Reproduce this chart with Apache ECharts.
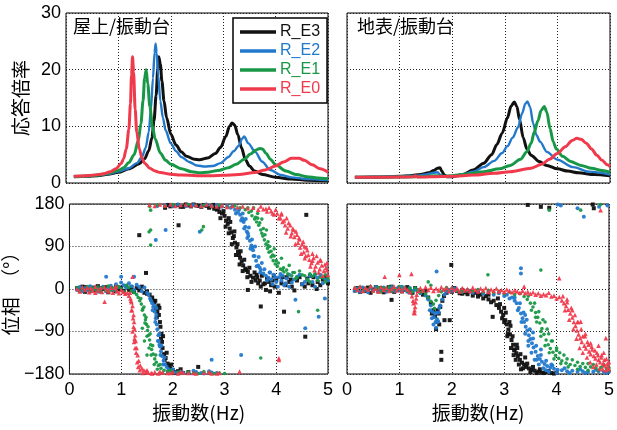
<!DOCTYPE html>
<html><head><meta charset="utf-8">
<script src="https://cdn.jsdelivr.net/npm/echarts@6/dist/echarts.min.js"></script>
<style>html,body{margin:0;padding:0;background:#fff}#c{width:617px;height:430px}</style>
</head><body><div id="c"></div><script>
// Series names, colours and axis ticks
const seriesNames = ['R_E3', 'R_E2', 'R_E1', 'R_E0'];
const seriesColors = ['#111111', '#2279cc', '#189846', '#f03a4c'];
const freqTicks = [0, 1, 2, 3, 4, 5];
const ampTicks = [0, 10, 20, 30];
const phaseTicks = [-180, -90, 0, 90, 180];

// Amplification, roof / shake table : [Hz, ratio]
const ampRoofE3 = [[0.15,1.1],[0.4,1.2],[0.6,1.3],[0.8,1.55],[1.0,1.9],[1.2,2.5],[1.4,3.4],[1.5,4.3],[1.58,5.7],[1.64,8],[1.68,11],[1.72,15.5],[1.75,20],[1.77,22.3],[1.8,21],[1.83,18],[1.87,14.5],[1.92,11.5],[2.0,8.6],[2.1,6.7],[2.2,5.5],[2.3,4.7],[2.45,4.2],[2.55,4.1],[2.7,4.4],[2.85,5.2],[2.95,6.3],[3.05,8.2],[3.12,10],[3.17,10.6],[3.22,10.2],[3.28,8.5],[3.35,6.2],[3.42,4.2],[3.5,3.0],[3.6,2.1],[3.75,1.5],[4.0,1.0],[4.3,0.7],[4.6,0.5],[5.0,0.4]];
const ampRoofE2 = [[0.15,1.1],[0.4,1.2],[0.6,1.35],[0.8,1.6],[1.0,2.0],[1.2,2.6],[1.35,3.5],[1.45,4.6],[1.52,6.2],[1.58,9],[1.62,13],[1.66,18.5],[1.69,23],[1.71,24.6],[1.73,23],[1.76,19],[1.8,14.5],[1.85,11.5],[1.9,9.3],[2.0,7.0],[2.1,5.6],[2.2,4.6],[2.35,3.7],[2.5,3.1],[2.65,2.9],[2.8,3.0],[2.95,3.5],[3.1,4.6],[3.2,5.6],[3.3,6.6],[3.36,7.8],[3.4,8.2],[3.48,7.0],[3.61,5.5],[3.74,3.8],[3.9,2.3],[4.1,1.4],[4.3,1.0],[4.6,0.7],[5.0,0.5]];
const ampRoofE1 = [[0.15,1.15],[0.4,1.25],[0.6,1.4],[0.8,1.7],[1.0,2.2],[1.1,2.7],[1.2,3.6],[1.3,5.0],[1.38,7.5],[1.43,10.5],[1.47,14.5],[1.5,18.5],[1.53,20],[1.56,17.5],[1.6,13.5],[1.65,10],[1.7,7.8],[1.8,5.3],[1.9,4.0],[2.0,3.3],[2.2,2.5],[2.4,2.0],[2.55,1.8],[2.7,1.9],[2.9,2.2],[3.1,2.7],[3.25,3.3],[3.4,4.2],[3.52,5.1],[3.62,5.8],[3.7,6.1],[3.75,6.0],[3.82,5.2],[3.9,4.2],[4.0,3.2],[4.2,2.1],[4.4,1.5],[4.6,1.1],[4.8,0.9],[5.0,0.75]];
const ampRoofE0 = [[0.15,1.2],[0.3,1.25],[0.5,1.35],[0.7,1.6],[0.85,2.0],[0.95,2.5],[1.05,3.4],[1.1,4.3],[1.15,6.0],[1.2,9.5],[1.23,14],[1.25,19],[1.27,22.3],[1.29,19.5],[1.32,13],[1.35,9],[1.4,6],[1.45,4.4],[1.5,3.5],[1.6,2.6],[1.7,2.1],[1.8,1.85],[2.0,1.55],[2.2,1.4],[2.5,1.3],[2.8,1.3],[3.0,1.35],[3.3,1.5],[3.6,1.85],[3.8,2.3],[4.0,3.0],[4.15,3.7],[4.3,4.35],[4.45,4.35],[4.55,4.0],[4.7,3.2],[4.85,2.5],[5.0,1.9]];

// Amplification, ground surface / shake table : [Hz, ratio]
const ampGndE3 = [[0.15,1.0],[0.5,1.05],[0.8,1.1],[1.0,1.2],[1.2,1.3],[1.4,1.5],[1.55,1.8],[1.65,2.2],[1.72,2.6],[1.77,2.7],[1.8,2.1],[1.85,1.4],[1.9,1.1],[2.0,1.1],[2.2,1.5],[2.4,2.3],[2.6,3.5],[2.75,5.0],[2.85,6.8],[2.95,8.8],[3.05,11.5],[3.12,13.6],[3.18,14.3],[3.23,13.5],[3.28,11.2],[3.35,8],[3.42,6],[3.5,4.9],[3.65,3.8],[3.8,3.1],[4.0,2.5],[4.2,2.1],[4.4,1.8],[4.7,1.5],[5.0,1.3]];
const ampGndE2 = [[0.15,1.0],[0.5,1.05],[1.0,1.15],[1.3,1.3],[1.5,1.5],[1.65,1.8],[1.72,1.9],[1.78,1.4],[1.85,1.1],[2.0,1.2],[2.2,1.5],[2.4,2.0],[2.6,2.8],[2.8,3.9],[2.95,5.3],[3.05,6.5],[3.15,8],[3.25,9.8],[3.33,12.3],[3.39,14],[3.43,14.4],[3.48,13.4],[3.54,10.5],[3.6,8.5],[3.67,7.3],[3.8,5.5],[4.0,4.1],[4.3,2.8],[4.6,2.0],[5.0,1.5]];
const ampGndE1 = [[0.15,1.0],[0.5,1.02],[1.0,1.05],[1.5,1.15],[1.7,1.3],[1.8,1.2],[2.0,1.3],[2.3,1.6],[2.6,2.0],[2.9,2.5],[3.1,3.1],[3.3,4.2],[3.42,5.5],[3.5,7],[3.56,9],[3.63,11],[3.69,12.8],[3.75,13.5],[3.8,12.5],[3.86,9.6],[3.92,7.3],[3.98,6.0],[4.1,4.7],[4.25,3.8],[4.45,3.1],[4.65,2.6],[4.85,2.2],[5.0,1.9]];
const ampGndE0 = [[0.15,1.0],[0.5,1.02],[1.0,1.05],[1.27,1.1],[1.3,1.3],[1.35,1.05],[1.6,1.1],[2.0,1.2],[2.4,1.4],[2.8,1.7],[3.1,2.0],[3.5,2.6],[3.7,3.3],[3.85,4.2],[4.0,5.2],[4.15,6.4],[4.28,7.5],[4.37,7.9],[4.45,7.7],[4.55,7.0],[4.65,6.0],[4.75,4.9],[4.85,4.0],[4.95,3.2],[5.0,2.9]];

// Phase, roof / shake table : [Hz, deg]
const phRoofE3 = [[0.15,2],[0.2,-3],[0.25,5],[0.3,-6],[0.35,1],[0.4,-4],[0.45,3],[0.5,-2],[0.55,6],[0.6,-5],[0.65,0],[0.7,4],[0.75,-7],[0.8,2],[0.85,-3],[0.9,5],[0.95,-1],[1.0,3],[1.05,-4],[1.1,6],[1.15,-2],[1.2,4],[1.25,-6],[1.3,2],[1.35,-3],[1.4,5],[1.45,-8],[1.5,-5],[1.55,-12],[1.6,-18],[1.64,-28],[1.67,-40],[1.7,-48],[1.72,-35],[1.73,-55],[1.75,-70],[1.76,-80],[1.78,-95],[1.79,-112],[1.8,-125],[1.83,-138],[1.86,-146],[1.9,-158],[1.92,-163],[1.95,-168],[2.0,-172],[2.05,-176],[2.1,-174],[2.2,-178],[2.49,-165],
  [1.85,172],[1.95,175],[2.1,178],[2.2,174],[2.3,177],[2.4,179],[2.5,176],[2.6,178],[2.7,172],[2.75,175],[2.8,170],[2.85,168],[2.9,163],[2.95,160],[3.0,155],[3.03,145],[3.06,138],[3.1,128],[3.13,120],[3.16,108],[3.2,98],[3.23,88],[3.26,79],[3.3,66],[3.33,58],[3.36,50],[3.4,43],[3.45,36],[3.5,28],[3.55,24],[3.6,18],[3.65,12],[3.7,5],[3.75,10],[3.8,-2],[3.85,15],[3.9,8],[4.0,20],[4.1,12],[4.2,25],[4.3,5],[4.4,18],[4.5,10],[4.6,22],[4.7,8],[4.8,15],[4.9,20],[5.0,12],
  [1.35,114],[2.11,135],[1.48,34],[1.62,-25],[3.45,-2],[3.7,-37],[4.15,-48],[4.56,-101],[4.58,157],[3.08,150],[3.18,112],[3.28,72],[3.42,40],[3.62,30],[3.95,28],[4.25,15],[4.65,28]];
const phRoofE3b = [[2.92,150],[2.98,165],[3.02,132],[3.08,118],[3.11,142],[3.14,95],[3.19,122],[3.22,72],[3.25,95],[3.29,52],[3.31,80],[3.35,38],[3.38,62],[3.44,25],[3.48,45],[3.52,15],[3.58,35],[3.63,25],[3.68,18],[3.72,28],[3.78,12],[3.82,22],[3.88,-5],[3.92,18],[3.97,5],[4.05,-8],[4.12,25],[4.18,8],[4.28,20],[4.35,-3],[4.45,25],[4.55,5],[4.62,12],[4.72,25],[4.78,0],[4.85,8],[4.95,25],
  [0.3,4],[0.6,2],[0.9,-5],[1.2,-3],[1.5,-10],[1.58,-22],[1.66,-25],[1.69,-60],[1.74,-40],[1.77,-105],[1.81,-100],[1.84,-150],[1.88,-135],[1.97,-160],[2.02,-178],[2.15,-170],[2.3,-176],
  [1.9,178],[2.0,176],[2.15,174],[2.25,179],[2.35,175],[2.45,177],[2.55,174],[2.65,176],[2.78,178],[2.88,172]];
const phRoofE2 = [[0.15,-2],[0.2,4],[0.25,-5],[0.3,2],[0.35,-3],[0.4,6],[0.45,-1],[0.5,3],[0.55,-6],[0.6,1],[0.65,5],[0.7,-4],[0.75,2],[0.8,7],[0.85,-2],[0.9,10],[0.95,4],[1.0,14],[1.05,8],[1.1,3],[1.15,12],[1.2,6],[1.25,-2],[1.3,9],[1.35,4],[1.4,-5],[1.45,3],[1.5,-8],[1.53,-12],[1.56,-20],[1.6,-30],[1.62,-38],[1.65,-48],[1.67,-62],[1.69,-75],[1.7,-85],[1.72,-98],[1.73,-110],[1.75,-122],[1.77,-132],[1.79,-142],[1.82,-152],[1.85,-160],[1.88,-165],[1.92,-170],[1.97,-174],[2.05,-177],[2.15,-175],[2.3,-178],[2.45,-176],[2.6,-179],[2.75,-177],
  [1.7,176],[1.85,178],[2.0,175],[2.1,179],[2.25,176],[2.4,178],[2.55,175],[2.65,179],[2.75,176],[2.85,178],[2.95,174],[3.05,176],[3.12,172],[3.2,168],[3.26,163],[3.3,157],[3.34,150],[3.37,142],[3.4,132],[3.43,122],[3.46,112],[3.49,102],[3.52,92],[3.55,82],[3.58,70],[3.61,60],[3.65,50],[3.7,40],[3.75,33],[3.8,28],[3.85,24],[3.9,20],[3.95,30],[4.0,15],[4.05,25],[4.1,18],[4.15,8],[4.2,22],[4.3,14],[4.4,26],[4.5,10],[4.6,20],[4.7,15],[4.8,24],[4.9,12],[5.0,18],
  [0.71,26],[1.0,26],[1.25,26],[1.67,104],[1.86,125],[2.52,121],[2.75,-150],[3.32,-140],[4.56,-83],[4.82,-59],[4.37,-23],[4.94,-20],[3.36,145],[3.45,118],[3.54,88],[3.68,45],[3.88,35],[4.25,30],[4.75,30],[1.68,-40],[1.74,-118]];
const phRoofE2b = [[3.15,175],[3.22,160],[3.28,168],[3.32,145],[3.35,160],[3.38,128],[3.41,148],[3.44,108],[3.47,130],[3.5,85],[3.53,105],[3.56,70],[3.59,90],[3.62,48],[3.66,68],[3.69,35],[3.72,55],[3.77,42],[3.82,18],[3.87,35],[3.93,10],[3.98,25],[4.03,5],[4.08,32],[4.12,28],[4.18,12],[4.25,5],[4.35,20],[4.45,30],[4.55,15],[4.65,28],[4.75,5],[4.85,30],[4.95,20],
  [1.58,-25],[1.61,-45],[1.64,-35],[1.66,-70],[1.68,-55],[1.71,-110],[1.74,-95],[1.76,-140],[1.78,-120],[1.81,-160],[1.84,-145],[1.9,-175],[2.0,-170],[2.2,-178],[2.4,-173],[2.55,-178],[2.7,-174],[2.85,-178]];
const phRoofE1 = [[0.15,3],[0.2,-4],[0.25,1],[0.3,-2],[0.35,5],[0.4,-6],[0.45,2],[0.5,-1],[0.55,4],[0.6,-5],[0.65,3],[0.7,-3],[0.75,6],[0.8,-2],[0.85,2],[0.9,-4],[0.95,5],[1.0,1],[1.05,-6],[1.1,8],[1.15,3],[1.2,-4],[1.25,-8],[1.3,-12],[1.33,-18],[1.36,-25],[1.39,-32],[1.42,-42],[1.45,-55],[1.47,-65],[1.49,-75],[1.51,-88],[1.53,-98],[1.55,-108],[1.57,-118],[1.59,-128],[1.62,-138],[1.65,-148],[1.68,-155],[1.72,-162],[1.77,-168],[1.83,-172],[1.9,-175],[2.0,-177],[2.15,-178],[2.3,-176],[2.5,-179],[2.7,-177],[2.9,-178],[3.0,-179],
  [1.55,175],[1.7,178],[1.85,176],[2.0,179],[2.15,177],[2.3,179],[2.45,176],[2.6,178],[2.75,175],[2.9,177],[3.05,174],[3.2,176],[3.3,172],[3.4,168],[3.47,162],[3.53,155],[3.58,148],[3.62,142],[3.66,135],[3.7,125],[3.74,112],[3.77,104],[3.8,95],[3.83,86],[3.86,78],[3.9,68],[3.94,60],[3.98,53],[4.02,48],[4.08,42],[4.15,36],[4.22,32],[4.3,28],[4.4,25],[4.5,30],[4.6,20],[4.7,27],[4.8,18],[4.9,24],[5.0,22],
  [1.57,125],[1.57,93],[1.57,167],[1.54,121],[2.59,132],[2.56,125],[3.7,-146],[4.43,-48],[4.8,-45],[1.41,-83],[1.45,-110],[1.5,-140],[3.64,150],[3.72,118],[3.84,92],[3.96,70],[4.12,40],[4.35,35],[4.65,32],[4.95,15]];
const phRoofE1b = [[3.45,172],[3.52,165],[3.56,172],[3.6,152],[3.64,160],[3.68,140],[3.72,148],[3.75,128],[3.78,115],[3.81,125],[3.84,100],[3.87,90],[3.9,80],[3.93,72],[3.96,85],[4.0,60],[4.04,55],[4.1,65],[4.14,45],[4.2,40],[4.25,50],[4.32,35],[4.38,22],[4.45,38],[4.55,28],[4.65,15],[4.75,32],[4.85,25],[4.95,30],
  [1.38,-20],[1.41,-45],[1.44,-38],[1.46,-72],[1.48,-60],[1.5,-100],[1.52,-80],[1.54,-125],[1.56,-95],[1.58,-140],[1.61,-120],[1.64,-160],[1.67,-140],[1.7,-170],[1.75,-160],[1.8,-178],[1.95,-172],[2.1,-176],[2.4,-178],[2.6,-175],[2.8,-179]];
const phRoofE0 = [[0.15,0],[0.2,-5],[0.25,4],[0.3,-2],[0.35,3],[0.38,-7],[0.42,1],[0.45,-4],[0.5,5],[0.55,-3],[0.6,2],[0.63,-6],[0.68,4],[0.72,-1],[0.76,-5],[0.8,3],[0.84,-8],[0.88,2],[0.92,-4],[0.96,-9],[1.0,-2],[1.04,-6],[1.08,-10],[1.12,-8],[1.15,-14],[1.18,-20],[1.2,-28],[1.22,-36],[1.24,-55],[1.25,-70],[1.26,-85],[1.27,-98],[1.28,-110],[1.3,-125],[1.32,-140],[1.34,-152],[1.37,-162],[1.4,-168],[1.44,-172],[1.48,-175],[1.52,-177],[1.58,-178],[1.65,-176],[1.72,-179],[1.8,-177],[1.9,-178],[2.0,-176],[2.1,-179],[2.2,-177],[2.3,-178],[2.45,-179],[2.6,-177],[2.75,-179],[2.9,-178],
  [1.55,178],[1.65,176],[1.75,179],[1.85,177],[1.95,179],[2.05,176],[2.15,178],[2.25,179],[2.35,177],[2.45,178],[2.55,176],[2.65,179],[2.75,177],[2.85,175],[2.95,177],[3.05,174],[3.15,176],[3.25,173],[3.35,175],[3.45,171],[3.55,172],[3.65,168],[3.75,169],[3.82,164],[3.9,165],[3.96,158],[4.02,160],[4.08,150],[4.12,142],[4.17,135],[4.22,128],[4.27,135],[4.3,118],[4.35,110],[4.38,122],[4.42,98],[4.46,88],[4.5,95],[4.53,78],[4.57,70],[4.6,82],[4.64,62],[4.68,55],[4.72,66],[4.76,48],[4.8,56],[4.84,42],[4.88,50],[4.92,38],[4.96,45],[5.0,30],
  [1.22,-90],[1.25,-112],[1.2,-45],[0.68,-27],[1.22,26],[4.05,-147],[3.29,-175],[4.05,-150],[4.1,160],[4.2,150],[4.33,125],[4.45,105],[4.55,90],[4.7,75],[4.85,62],[4.98,55],[0.5,-8],[0.9,6]];
const phRoofE0b = [[3.7,175],[3.8,170],[3.86,172],[3.93,160],[3.99,168],[4.05,150],[4.1,158],[4.15,145],[4.19,120],[4.24,140],[4.28,112],[4.32,128],[4.37,95],[4.4,115],[4.44,108],[4.48,75],[4.52,100],[4.55,65],[4.58,88],[4.62,72],[4.66,48],[4.7,60],[4.74,40],[4.78,70],[4.82,35],[4.86,60],[4.9,28],[4.94,52],[4.98,40],
  [1.17,-8],[1.19,-25],[1.21,-45],[1.23,-62],[1.24,-80],[1.26,-105],[1.27,-125],[1.29,-135],[1.31,-155],[1.33,-165],[1.36,-172],[1.42,-178],[1.5,-172],[1.6,-179],[1.75,-175],[1.95,-178],[2.15,-175],[2.4,-178],[2.7,-176],[2.85,-179]];

// Phase, ground surface / shake table : [Hz, deg]
const phGndE3 = [[0.15,-3],[0.2,2],[0.25,-6],[0.3,1],[0.35,-4],[0.4,3],[0.45,-8],[0.5,-1],[0.55,4],[0.6,-5],[0.65,2],[0.7,-7],[0.75,0],[0.8,-3],[0.85,5],[0.9,-6],[0.95,-1],[1.0,3],[1.05,-5],[1.1,-2],[1.15,4],[1.2,-4],[1.25,-8],[1.3,2],[1.35,-3],[1.4,-6],[1.45,-12],[1.5,-4],[1.55,-18],[1.6,-30],[1.65,-45],[1.68,-58],[1.72,-70],[1.75,-52],[1.78,-38],[1.82,-25],[1.85,-15],[1.9,-8],[1.95,-3],[2.0,-6],[2.05,2],[2.1,-4],[2.15,-9],[2.2,-2],[2.25,-7],[2.3,-11],[2.35,-5],[2.4,-14],[2.45,-8],[2.5,-16],[2.55,-12],[2.6,-20],[2.65,-15],[2.7,-22],[2.75,-28],[2.8,-25],[2.85,-34],[2.9,-40],[2.94,-48],[2.98,-55],[3.02,-66],[3.05,-75],[3.08,-86],[3.11,-96],[3.14,-108],[3.17,-118],[3.2,-128],[3.23,-136],[3.26,-142],[3.3,-150],[3.34,-156],[3.38,-160],[3.42,-165],[3.47,-168],[3.52,-171],[3.58,-173],[3.65,-175],[3.72,-177],[3.8,-176],[3.9,-178],[4.0,-177],
  [1.99,51],[1.8,-133],[1.8,-150],[3.45,178],[3.7,174],[3.86,172],[4.71,171],[4.69,179],[2.78,-59],[0.85,-23],[1.86,-66],[1.96,-66],[3.0,-40],[3.06,-100],[3.12,-78],[3.18,-140],[3.24,-118],[3.32,-170],[3.4,-145]];
const phGndE3b = [[2.88,-20],[2.92,-32],[2.96,-62],[3.0,-70],[3.03,-50],[3.07,-95],[3.1,-70],[3.13,-125],[3.16,-100],[3.19,-130],[3.22,-150],[3.25,-125],[3.28,-160],[3.31,-138],[3.36,-168],[3.44,-158],[3.5,-176],[3.55,-165],[3.62,-178],[3.68,-170],[3.75,-178],[3.85,-174],[3.95,-179],
  [0.4,-2],[0.8,4],[1.2,-7],[1.62,-52],[1.7,-85],[1.73,-45],[1.76,-75],[2.2,-10],[2.5,-8],[2.7,-12]];
const phGndE2 = [[0.15,-4],[0.2,1],[0.25,-6],[0.3,3],[0.35,-2],[0.4,-7],[0.45,2],[0.5,-3],[0.55,4],[0.6,-5],[0.65,-1],[0.7,3],[0.75,-6],[0.8,-2],[0.85,4],[0.9,-4],[0.95,1],[1.0,-3],[1.05,5],[1.1,-2],[1.15,-6],[1.2,2],[1.25,-4],[1.3,-1],[1.35,-5],[1.4,-9],[1.45,-4],[1.5,-14],[1.55,-22],[1.6,-35],[1.63,-48],[1.66,-60],[1.69,-70],[1.72,-64],[1.75,-50],[1.78,-35],[1.82,-22],[1.86,-12],[1.9,-6],[1.95,-2],[2.0,-5],[2.05,1],[2.1,-3],[2.2,-6],[2.3,-2],[2.4,-8],[2.5,-4],[2.6,-10],[2.7,-6],[2.8,-12],[2.9,-9],[3.0,-15],[3.05,-12],[3.1,-20],[3.15,-18],[3.2,-25],[3.24,-30],[3.28,-40],[3.32,-52],[3.35,-62],[3.38,-70],[3.41,-80],[3.44,-88],[3.47,-98],[3.5,-106],[3.53,-115],[3.56,-124],[3.6,-133],[3.64,-142],[3.68,-148],[3.72,-154],[3.77,-159],[3.82,-163],[3.88,-166],[3.95,-169],[4.02,-171],[4.1,-172],[4.2,-174],[4.3,-173],[4.4,-175],[4.5,-174],[4.6,-176],[4.7,-175],[4.8,-174],[4.9,-176],[5.0,-175],
  [1.71,37],[3.32,44],[3.32,33],[4.02,179],[4.08,177],[4.4,171],[4.52,153],[4.81,174],[4.97,177],[1.74,-69],[1.71,-51],[3.4,-55],[3.46,-110],[3.55,-92],[3.62,-150],[3.7,-128],[3.8,-172],[3.9,-160]];
const phGndE2b = [[3.2,-18],[3.26,-45],[3.3,-30],[3.33,-70],[3.37,-50],[3.4,-95],[3.43,-65],[3.46,-120],[3.49,-85],[3.52,-135],[3.55,-105],[3.58,-150],[3.61,-120],[3.66,-160],[3.7,-140],[3.75,-168],[3.8,-152],[3.85,-175],[3.92,-162],[4.0,-178],[4.15,-168],[4.25,-178],[4.45,-170],[4.55,-178],[4.75,-171],[4.95,-178],
  [1.58,-45],[1.62,-62],[1.65,-75],[1.68,-52],[1.7,-82],[1.73,-70],[1.76,-40]];
const phGndE1 = [[0.15,2],[0.2,-3],[0.25,4],[0.3,-5],[0.35,1],[0.4,-2],[0.45,5],[0.5,-4],[0.55,0],[0.6,3],[0.65,-6],[0.7,2],[0.75,-1],[0.8,4],[0.85,-5],[0.9,1],[0.95,-3],[1.0,5],[1.05,-2],[1.1,3],[1.15,-4],[1.2,1],[1.25,-6],[1.3,2],[1.35,-3],[1.4,-8],[1.45,-4],[1.5,-10],[1.55,-18],[1.6,-26],[1.65,-32],[1.7,-24],[1.75,-14],[1.8,-6],[1.85,-2],[1.9,3],[1.95,-4],[2.0,1],[2.1,-3],[2.2,-6],[2.3,-2],[2.4,-5],[2.5,-1],[2.6,-7],[2.7,-3],[2.8,-8],[2.9,-5],[3.0,-10],[3.1,-7],[3.2,-12],[3.3,-10],[3.38,-16],[3.44,-22],[3.5,-30],[3.55,-38],[3.6,-50],[3.64,-60],[3.68,-72],[3.72,-84],[3.76,-96],[3.8,-108],[3.84,-118],[3.88,-126],[3.93,-134],[3.98,-141],[4.04,-147],[4.1,-152],[4.18,-157],[4.26,-160],[4.35,-162],[4.45,-164],[4.55,-166],[4.65,-165],[4.75,-167],[4.85,-166],[4.95,-168],[5.0,-167],
  [1.55,15],[1.6,8],[1.67,-41],[2.69,30],[3.7,40],[3.86,167],[4.46,167],[4.84,179],[3.7,-90],[3.6,-60],[3.78,-70],[3.85,-95],[3.92,-110],[4.0,-125],[4.06,-135],[4.2,-148],[4.4,-155],[4.6,-158],[4.9,-160]];
const phGndE1b = [[3.46,-15],[3.52,-45],[3.58,-30],[3.62,-70],[3.66,-48],[3.7,-100],[3.74,-65],[3.78,-120],[3.82,-85],[3.86,-135],[3.9,-110],[3.95,-148],[4.0,-130],[4.08,-158],[4.14,-140],[4.22,-165],[4.3,-150],[4.4,-170],[4.5,-158],[4.6,-172],[4.7,-160],[4.8,-172],[4.9,-162],[5.0,-172]];
const phGndE0 = [[0.15,3],[0.2,-2],[0.25,5],[0.3,-4],[0.35,2],[0.4,-1],[0.45,6],[0.5,-3],[0.55,1],[0.6,-5],[0.65,4],[0.7,-2],[0.75,3],[0.8,-4],[0.85,0],[0.9,5],[0.95,-3],[1.0,2],[1.05,-4],[1.1,3],[1.15,-1],[1.2,-6],[1.24,-15],[1.27,-30],[1.29,-45],[1.31,-28],[1.33,-12],[1.36,-4],[1.4,2],[1.45,-3],[1.5,4],[1.55,-2],[1.6,3],[1.65,-4],[1.7,1],[1.75,-3],[1.8,4],[1.85,-1],[1.9,2],[1.95,-4],[2.0,3],[2.05,-2],[2.1,1],[2.15,-5],[2.2,2],[2.25,-3],[2.3,0],[2.35,-4],[2.4,3],[2.45,-2],[2.5,-5],[2.55,1],[2.6,-3],[2.65,2],[2.7,-6],[2.75,-1],[2.8,-4],[2.85,1],[2.9,-5],[2.95,-2],[3.0,-6],[3.05,-1],[3.1,-4],[3.15,-7],[3.2,-3],[3.25,-5],[3.3,-8],[3.35,-4],[3.4,-9],[3.45,-6],[3.5,-10],[3.55,-7],[3.6,-12],[3.65,-9],[3.7,-14],[3.75,-11],[3.8,-13],[3.85,-8],[3.9,-16],[3.95,-14],[4.0,-20],[4.05,-17],[4.1,-24],[4.14,-30],[4.18,-36],[4.22,-44],[4.26,-52],[4.3,-60],[4.33,-70],[4.36,-78],[4.39,-88],[4.42,-96],[4.45,-104],[4.48,-112],[4.5,-100],[4.53,-120],[4.56,-126],[4.59,-112],[4.62,-132],[4.65,-138],[4.68,-128],[4.71,-142],[4.74,-147],[4.77,-135],[4.8,-150],[4.83,-155],[4.86,-140],[4.89,-158],[4.92,-162],[4.95,-148],[4.98,-165],[5.0,-155],
  [0.72,26],[1.0,30],[1.23,32],[1.29,-51],[4.05,23],[3.38,5],[4.84,167],[4.94,-104],[4.46,-69],[4.2,-22],[4.3,-45],[4.4,-70],[4.55,-95],[4.65,-115],[4.8,-120],[4.9,-135]];
const phGndE0b = [[4.12,-15],[4.16,-45],[4.2,-28],[4.24,-65],[4.28,-40],[4.32,-85],[4.35,-55],[4.38,-105],[4.41,-70],[4.44,-125],[4.47,-85],[4.5,-135],[4.54,-100],[4.58,-145],[4.61,-118],[4.64,-155],[4.67,-122],[4.7,-165],[4.73,-130],[4.76,-160],[4.79,-140],[4.82,-168],[4.85,-145],[4.88,-170],[4.91,-150],[4.94,-172],[4.97,-158],[5.0,-170],
  [1.26,-25],[1.28,-50],[1.3,-38],[1.32,-20]];

const ampRoof = [ampRoofE3, ampRoofE2, ampRoofE1, ampRoofE0];
const ampGnd = [ampGndE3, ampGndE2, ampGndE1, ampGndE0];
const phRoof = [phRoofE3.concat(phRoofE3b), phRoofE2.concat(phRoofE2b), phRoofE1.concat(phRoofE1b), phRoofE0.concat(phRoofE0b)];
const phGnd = [phGndE3.concat(phGndE3b), phGndE2.concat(phGndE2b), phGndE1.concat(phGndE1b), phGndE0.concat(phGndE0b)];
const lineWidths = [3, 2.4, 3, 3];
const markerShapes = ['rect', 'circle', 'circle', 'triangle'];
const markerSizes = [4, 4, 3.6, 4.6];

const numFont = "'Liberation Sans', Arial, sans-serif";
const cjkFont = "'Noto Sans CJK JP', sans-serif";
const minus = v => String(v).replace('-', '\u2212');

const grids = [
  {left: 66, top: 13, width: 262, height: 170},
  {left: 347, top: 13, width: 263, height: 170},
  {left: 66, top: 204, width: 262, height: 170},
  {left: 347, top: 204, width: 263, height: 170}
].map(g => Object.assign({show: true, borderColor: '#000', borderWidth: 1, backgroundColor: 'transparent'}, g));

const dotted = {show: true, lineStyle: {color: '#222', width: 1, type: [1, 2]}};

function xAxisFor(i) {
  const bottom = i >= 2;
  return {
    type: 'value', gridIndex: i, min: freqTicks[0], max: freqTicks[freqTicks.length - 1], interval: 1,
    axisLine: {show: false}, axisTick: {show: false}, splitLine: dotted,
    axisLabel: {show: bottom, fontSize: 18, color: '#000', fontFamily: numFont, margin: 7},
    name: bottom ? '振動数(Hz)' : '', nameLocation: 'middle', nameGap: 29,
    nameTextStyle: {fontSize: 19, color: '#000', fontFamily: cjkFont}
  };
}
function yAxisFor(i) {
  const amp = i < 2, left = i % 2 === 0;
  const ticks = amp ? ampTicks : phaseTicks;
  return {
    type: 'value', gridIndex: i, min: ticks[0], max: ticks[ticks.length - 1], interval: amp ? 10 : 90,
    axisLine: {show: false}, axisTick: {show: false}, splitLine: dotted,
    axisLabel: {show: left, fontSize: 18, color: '#000', fontFamily: numFont, margin: 5, formatter: minus},
    name: left ? (amp ? '応答倍率' : '位相　（°）') : '', nameLocation: 'middle', nameRotate: 90,
    nameGap: amp ? 36 : 42,
    nameTextStyle: {fontSize: 19, color: '#000', fontFamily: cjkFont}
  };
}

const series = [];
[ampRoof, ampGnd].forEach((set, gi) => {
  set.forEach((data, k) => series.push({
    type: 'line', name: seriesNames[k], xAxisIndex: gi, yAxisIndex: gi, data: data,
    showSymbol: false, symbol: 'none', smooth: 0.3, smoothMonotone: 'x', z: 2 + k,
    lineStyle: {color: seriesColors[k], width: lineWidths[k]}, itemStyle: {color: seriesColors[k]}
  }));
});
[phRoof, phGnd].forEach((set, gi) => {
  set.forEach((data, k) => series.push({
    type: 'scatter', name: seriesNames[k], xAxisIndex: gi + 2, yAxisIndex: gi + 2, data: data,
    symbol: markerShapes[k], symbolSize: markerSizes[k], z: 2 + k,
    itemStyle: {color: seriesColors[k], opacity: 0.95}
  }));
});

const chart = echarts.init(document.getElementById('c'), null, {renderer: 'canvas'});
chart.setOption({
  animation: false,
  backgroundColor: '#fff',
  grid: grids,
  xAxis: [0, 1, 2, 3].map(xAxisFor),
  yAxis: [0, 1, 2, 3].map(yAxisFor),
  title: [
    {text: '屋上/振動台', left: 73, top: 17, padding: 0, textStyle: {fontSize: 18, fontWeight: 'normal', color: '#000', fontFamily: cjkFont}},
    {text: '地表/振動台', left: 357, top: 17, padding: 0, textStyle: {fontSize: 18, fontWeight: 'normal', color: '#000', fontFamily: cjkFont}}
  ],
  legend: {
    orient: 'vertical', left: 233, top: 18, padding: [6, 7, 6, 7],
    backgroundColor: '#fff', borderColor: '#000', borderWidth: 1.5, borderRadius: 0,
    icon: 'rect', itemWidth: 36, itemHeight: 3.5, itemGap: 3, selectedMode: false,
    textStyle: {fontSize: 16, fontFamily: numFont, padding: [0, 0, 0, -1]},
    data: seriesNames.map((n, k) => ({name: n, textStyle: {color: seriesColors[k]}}))
  },
  series: series
});
</script></body></html>
